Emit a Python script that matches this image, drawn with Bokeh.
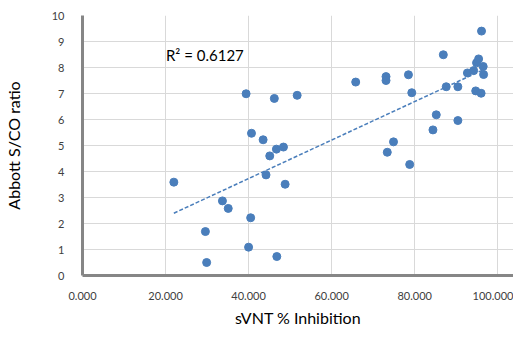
import numpy as np
from bokeh.plotting import figure
from bokeh.models import Range1d, FixedTicker, PrintfTickFormatter, Label, ColumnDataSource
from bokeh.embed import file_html
from bokeh.resources import INLINE

# Data
svnt_inhibition = [22.0, 29.6, 29.9, 33.7, 35.1, 39.4, 40.0, 40.5, 40.7, 43.5,
                   44.2, 45.1, 46.2, 46.7, 46.8, 48.4, 48.8, 51.7, 65.8, 73.1,
                   73.1, 73.4, 74.9, 78.5, 78.8, 79.3, 84.4, 85.2, 86.9, 87.6,
                   90.4, 90.4, 92.7, 94.2, 94.9, 95.4, 96.1, 96.5, 96.6, 94.7, 96.0]
abbott_ratio = [3.59, 1.69, 0.50, 2.87, 2.58, 6.99, 1.09, 2.22, 5.47, 5.22,
                3.87, 4.60, 6.81, 4.86, 0.73, 4.94, 3.51, 6.93, 7.44, 7.65,
                7.50, 4.74, 5.14, 7.72, 4.27, 7.03, 5.60, 6.18, 8.49, 7.26,
                7.26, 5.96, 7.79, 7.88, 8.18, 8.33, 9.40, 8.04, 7.73, 7.10, 7.01]
x_ticks = [0, 20, 40, 60, 80, 100]
y_ticks = [0, 1, 2, 3, 4, 5, 6, 7, 8, 9, 10]
r2_text = "R² = 0.6127"

FONT = "Lato"
BLUE = "#4A7EBB"

p = figure(width=513, height=330, output_backend="svg", toolbar_location=None,
           x_range=Range1d(0, 103.8), y_range=Range1d(0, 10),
           min_border_left=79, min_border_right=0, min_border_top=15, min_border_bottom=55)
p.outline_line_color = None
p.background_fill_color = "white"
p.border_fill_color = "white"

# grid
p.xgrid.ticker = FixedTicker(ticks=x_ticks)
p.ygrid.ticker = FixedTicker(ticks=y_ticks)
for g in (p.xgrid, p.ygrid):
    g.grid_line_color = "#D9D9D9"
    g.grid_line_width = 1

# axes
p.xaxis.ticker = FixedTicker(ticks=x_ticks)
p.yaxis.ticker = FixedTicker(ticks=y_ticks)
p.xaxis.formatter = PrintfTickFormatter(format="%.3f")
for ax in (p.xaxis, p.yaxis):
    ax.axis_line_color = "#868686"
    ax.axis_line_width = 3
    ax.major_tick_line_color = None
    ax.minor_tick_line_color = None
    ax.major_label_text_font = FONT
    ax.major_label_text_font_size = "11px"
    ax.major_label_text_color = "#404040"
    ax.axis_label_text_font = FONT
    ax.axis_label_text_font_size = "16px"
    ax.axis_label_text_font_style = "normal"
    ax.axis_label_text_color = "#000000"
p.xaxis.axis_label = "sVNT % Inhibition"
p.yaxis.axis_label = "Abbott S/CO ratio"
p.xaxis.major_label_standoff = 10
p.yaxis.major_label_standoff = 12
p.xaxis.axis_label_standoff = 5
p.yaxis.axis_label_standoff = 26

# trendline (least squares fit through the data, like the spreadsheet)
xs = np.array(svnt_inhibition)
ys = np.array(abbott_ratio)
slope, intercept = np.polyfit(xs, ys, 1)
tx = [xs.min(), xs.max()]
ty = [slope * v + intercept for v in tx]
p.line(tx, ty, line_color=BLUE, line_width=1.5, line_dash="4 2")

src = ColumnDataSource(dict(x=svnt_inhibition, y=abbott_ratio))
p.scatter("x", "y", source=src, size=8, fill_color=BLUE, line_color=BLUE)

p.add_layout(Label(x=20.1, y=8.5, text=r2_text, text_font=FONT, text_font_size="15px",
                   text_baseline="middle", text_color="#000000"))

open("out.html", "w").write(file_html(p, INLINE))
